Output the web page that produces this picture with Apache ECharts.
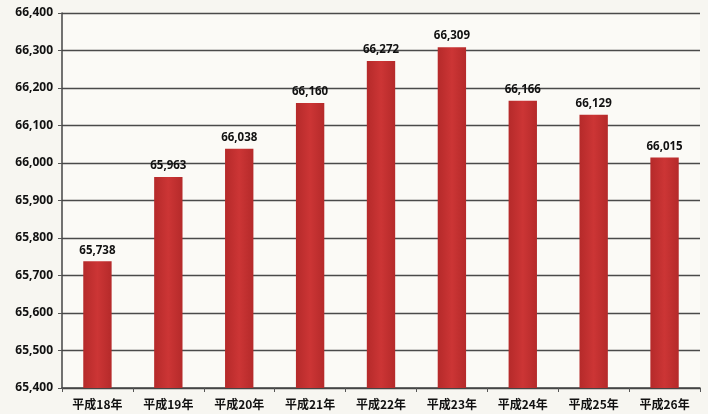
<!DOCTYPE html>
<html>
<head>
<meta charset="utf-8">
<script src="https://cdn.jsdelivr.net/npm/echarts@6/dist/echarts.min.js"></script>
<style>
  html, body { margin: 0; padding: 0; background: #f7f6f1; }
  #chart { width: 708px; height: 414px; }
</style>
</head>
<body>
<div id="chart"></div>
<script>
// Fiscal years (Heisei era) and yearly counts
const years = ['平成18年', '平成19年', '平成20年', '平成21年', '平成22年', '平成23年', '平成24年', '平成25年', '平成26年'];
const counts = [65738, 65963, 66038, 66160, 66272, 66309, 66166, 66129, 66015];
const yMin = 65400;
const yMax = 66400;
const yStep = 100;

const fmt = v => v.toLocaleString('en-US');

const chart = echarts.init(document.getElementById('chart'));
chart.setOption({
  backgroundColor: '#f7f6f1',
  animation: false,
  grid: { left: 62, right: 8, top: 13, bottom: 26, show: true, backgroundColor: '#fbfaf6', borderWidth: 0 },
  xAxis: {
    type: 'category',
    data: years,
    axisLine: { lineStyle: { color: '#444', width: 1.5 } },
    axisTick: { show: true, length: 4, lineStyle: { color: '#555' } },
    axisLabel: {
      color: '#111',
      fontFamily: 'Noto Sans CJK JP',
      fontWeight: 'bold',
      fontSize: 12,
      margin: 10
    }
  },
  yAxis: {
    type: 'value',
    min: yMin,
    max: yMax,
    interval: yStep,
    axisLine: { show: true, lineStyle: { color: '#444', width: 1.5 } },
    axisTick: { show: true, length: 4, lineStyle: { color: '#555' } },
    splitLine: { lineStyle: { color: '#4a4a4a', width: 1.3 } },
    axisLabel: {
      color: '#111',
      fontFamily: 'Open Sans',
      fontWeight: 'bold',
      fontSize: 12,
      margin: 9,
      formatter: fmt
    }
  },
  series: [{
    type: 'bar',
    data: counts,
    barWidth: '40%',
    itemStyle: {
      color: new echarts.graphic.LinearGradient(0, 0, 1, 0, [
        { offset: 0, color: '#b52a2a' },
        { offset: 0.5, color: '#cc3535' },
        { offset: 1, color: '#b52a2a' }
      ])
    },
    label: {
      show: true,
      position: 'top',
      distance: 5,
      color: '#111',
      fontFamily: 'Open Sans',
      fontWeight: 'bold',
      fontSize: 11.5,
      formatter: p => fmt(p.value)
    }
  }]
});
</script>
</body>
</html>
